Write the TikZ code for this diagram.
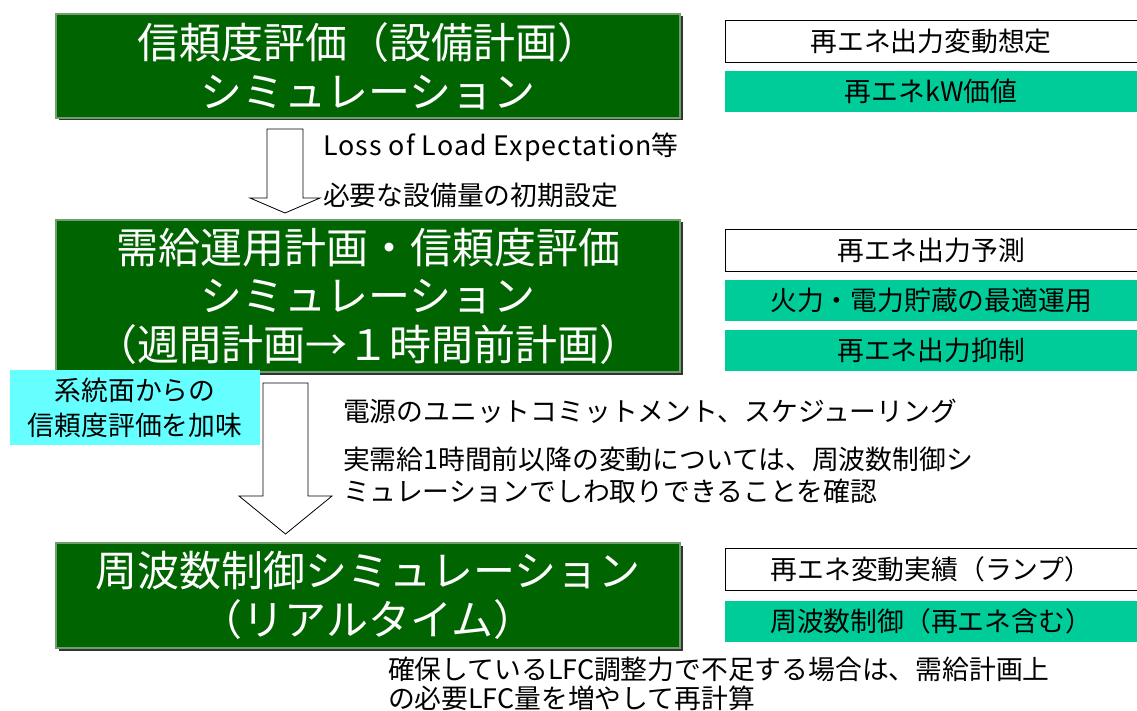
\documentclass[tikz,border=0pt]{standalone}
\usepackage{fontspec}
\setmainfont{Noto Sans CJK JP}
\usetikzlibrary{shadows}
\definecolor{darkgreen}{RGB}{0,100,0}
\definecolor{boxedge}{RGB}{110,160,110}
\definecolor{teal}{RGB}{0,204,153}
\definecolor{lightcyan}{RGB}{102,255,255}
\begin{document}
\begin{tikzpicture}[x=1pt,y=-1pt, every node/.style={inner sep=0pt, outer sep=0pt}]
\tikzset{
  bigbox/.style={draw=boxedge, fill=darkgreen, line width=1.5pt, text=white,
    font=\fontsize{42}{48.5}\selectfont, align=center, minimum width=624pt,
    drop shadow={shadow xshift=2.5pt, shadow yshift=-2.5pt, fill=black!80, opacity=1}},
  sidebox/.style={draw=black, line width=0.8pt, fill=white, minimum width=412pt,
    minimum height=42pt, font=\fontsize{26.8}{30}\selectfont},
  tealbox/.style={fill=teal, minimum width=412pt, minimum height=41pt,
    font=\fontsize{26.8}{30}\selectfont},
  note/.style={anchor=west, font=\fontsize{26.8}{30}\selectfont},
  blockarrow/.style={draw=black, line width=0.8pt, fill=white}
}
\useasboundingbox (0,0) rectangle (1137,711);

% main boxes
\node[bigbox, minimum height=104pt] (b1) at (368,66) {信頼度評価（設備計画）\\シミュレーション};
\node[bigbox, minimum height=152pt] (b2) at (368,296) {需給運用計画・信頼度評価\\シミュレーション\\（週間計画→１時間前計画）};
\node[bigbox, minimum height=105pt] (b3) at (368,595.5) {周波数制御シミュレーション\\（リアルタイム）};

% side boxes
\node[sidebox] (s1) at (931,41) {再エネ出力変動想定};
\node[tealbox] (s2) at (931,91.5) {再エネkW価値};
\node[sidebox] (s3) at (931,250) {再エネ出力予測};
\node[tealbox] (s4) at (931,300) {火力・電力貯蔵の最適運用};
\node[tealbox] (s5) at (931,350) {再エネ出力抑制};
\node[sidebox] (s6) at (931,569) {再エネ変動実績（ランプ）};
\node[tealbox] (s7) at (931,621.5) {周波数制御（再エネ含む）};

% cyan box
\node[fill=lightcyan, minimum width=250pt, minimum height=75pt, align=center,
  font=\fontsize{26.8}{35}\selectfont] (c1) at (135,407.5) {系統面からの\\信頼度評価を加味};

% arrows
\draw[blockarrow] (267,129) -- (303,129) -- (303,198) -- (320,198) -- (285,213)
  -- (250,198) -- (267,198) -- cycle;
\draw[blockarrow] (263,383) -- (308,383) -- (308,496) -- (332,496) -- (285.5,534)
  -- (239,496) -- (263,496) -- cycle;

% notes
\node[note] (t1) at (323,147) {{\addfontfeature{LetterSpace=4}Loss of Load Expectation}等};
\node[note] (t2) at (323,195) {必要な設備量の初期設定};
\node[note] (t3) at (343,411) {電源のユニットコミットメント、スケジューリング};
\node[note] (t4) at (343,459) {実需給1時間前以降の変動については、周波数制御シ};
\node[note] (t5) at (343,491) {ミュレーションでしわ取りできることを確認};
\node[note] (t6) at (388,669) {確保しているLFC調整力で不足する場合は、需給計画上};
\node[note] (t7) at (388,698) {の必要LFC量を増やして再計算};
\end{tikzpicture}
\end{document}
